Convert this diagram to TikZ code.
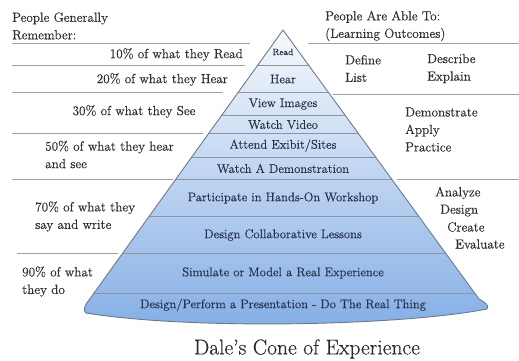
\documentclass[tikz,border=0pt]{standalone}
\usepackage{fontspec}
\setmainfont{Latin Modern Roman}[FakeBold=0.35, Ligatures=TeX]
\begin{document}
\begin{tikzpicture}[x=1pt,y=-1pt,
  lbl/.style={inner sep=0pt, text=txt, font=\fontsize{13.2}{17.5}\selectfont, align=left},
  conelbl/.style={inner sep=0pt, text=conetxt, font=\fontsize{12.6}{16}\selectfont},
  sep/.style={draw=sepc, line width=0.9pt}]
\definecolor{txt}{HTML}{2E2E2E}
\definecolor{conetxt}{HTML}{26314A}
\definecolor{sepc}{HTML}{A0A0A0}
\definecolor{topc}{HTML}{F7F9FC}
\definecolor{botc}{HTML}{84AEE6}
\definecolor{edgec}{HTML}{6E7A8A}
\useasboundingbox (0,0) rectangle (519,360);
\fill[white] (0,0) rectangle (519,360);
\def\conepath{(283,30) -- (89,300) .. controls (84,306) and (83,311) .. (86,313) .. controls (190,330) and (400,326) .. (487,309) .. controls (490,305) and (484,302) .. (479,299) -- cycle}
% cone fill
\shade[top color=topc, bottom color=botc] \conepath;
\begin{scope}
  \clip \conepath;
  \foreach \yy in {65,92,115,133,157,179,216,253,293}
    \draw[draw=edgec!80, line width=0.8pt] (60,\yy) -- (500,\yy);
\end{scope}
\draw[draw=edgec, line width=0.9pt] \conepath;
% separators
\draw[sep] (12,43) -- (250,43);
\draw[sep] (12,65) -- (245,65);
\draw[sep] (12,92) -- (223,92);
\draw[sep] (12,133) -- (203,133);
\draw[sep] (12,179) -- (173,179);
\draw[sep] (17,253) -- (118,253);
\draw[sep] (308,43) -- (519,43);
\draw[sep] (333,94) -- (519,94);
\draw[sep] (397,179) -- (519,179);
% cone labels
\node[conelbl, font=\fontsize{9}{11}\selectfont] (cread) at (283,52) {Read};
\node[conelbl] (chear) at (283,79) {Hear};
\node[conelbl] (cview) at (283,104) {View Images};
\node[conelbl] (cvideo) at (283,124.5) {Watch Video};
\node[conelbl] (cattend) at (283,145.5) {Attend Exibit/Sites};
\node[conelbl] (cdemo) at (283,168.5) {Watch A Demonstration};
\node[conelbl] (cpart) at (283,198) {Participate in Hands-On Workshop};
\node[conelbl] (cdesign) at (283,235) {Design Collaborative Lessons};
\node[conelbl] (csim) at (283,273) {Simulate or Model a Real Experience};
\node[conelbl] (cperf) at (283,305) {Design/Perform a Presentation - Do The Real Thing};
% left labels
\node[lbl, anchor=west] (ltitle) at (12,26) {People Generally\\Remember:};
\node[lbl, anchor=east] (l10) at (243,54.5) {10\% of what they Read};
\node[lbl, anchor=east] (l20) at (228,79.5) {20\% of what they Hear};
\node[lbl] (l30) at (134,111.5) {30\% of what they See};
\node[lbl, anchor=west] (l50) at (45,154.5) {50\% of what they hear\\and see};
\node[lbl, anchor=west] (l70) at (35,216.5) {70\% of what they\\say and write};
\node[lbl, anchor=west] (l90) at (22,281.5) {90\% of what\\they do};
% right labels
\node[lbl, anchor=west] (rtitle) at (325,26) {People Are Able To:\\(Learning Outcomes)};
\node[lbl, anchor=west] (rdefine) at (345,68.5) {Define\\List};
\node[lbl, anchor=west] (rdescribe) at (427,68.5) {Describe\\Explain};
\node[lbl, anchor=west] (rdemo) at (405,129.5) {Demonstrate\\Apply\\Practice};
\node[lbl, anchor=west] (ranalyze) at (435,193) {Analyze};
\node[lbl, anchor=west] (rdesign) at (440,210.5) {Design};
\node[lbl, anchor=west] (rcreate) at (447,227) {Create};
\node[lbl, anchor=west] (revaluate) at (455,244) {Evaluate};
% title
\node[inner sep=0pt, text=txt!90!black, font=\fontsize{21.5}{26}\selectfont] (title) at (307,349) {Dale’s Cone of Experience};
\end{tikzpicture}
\end{document}
